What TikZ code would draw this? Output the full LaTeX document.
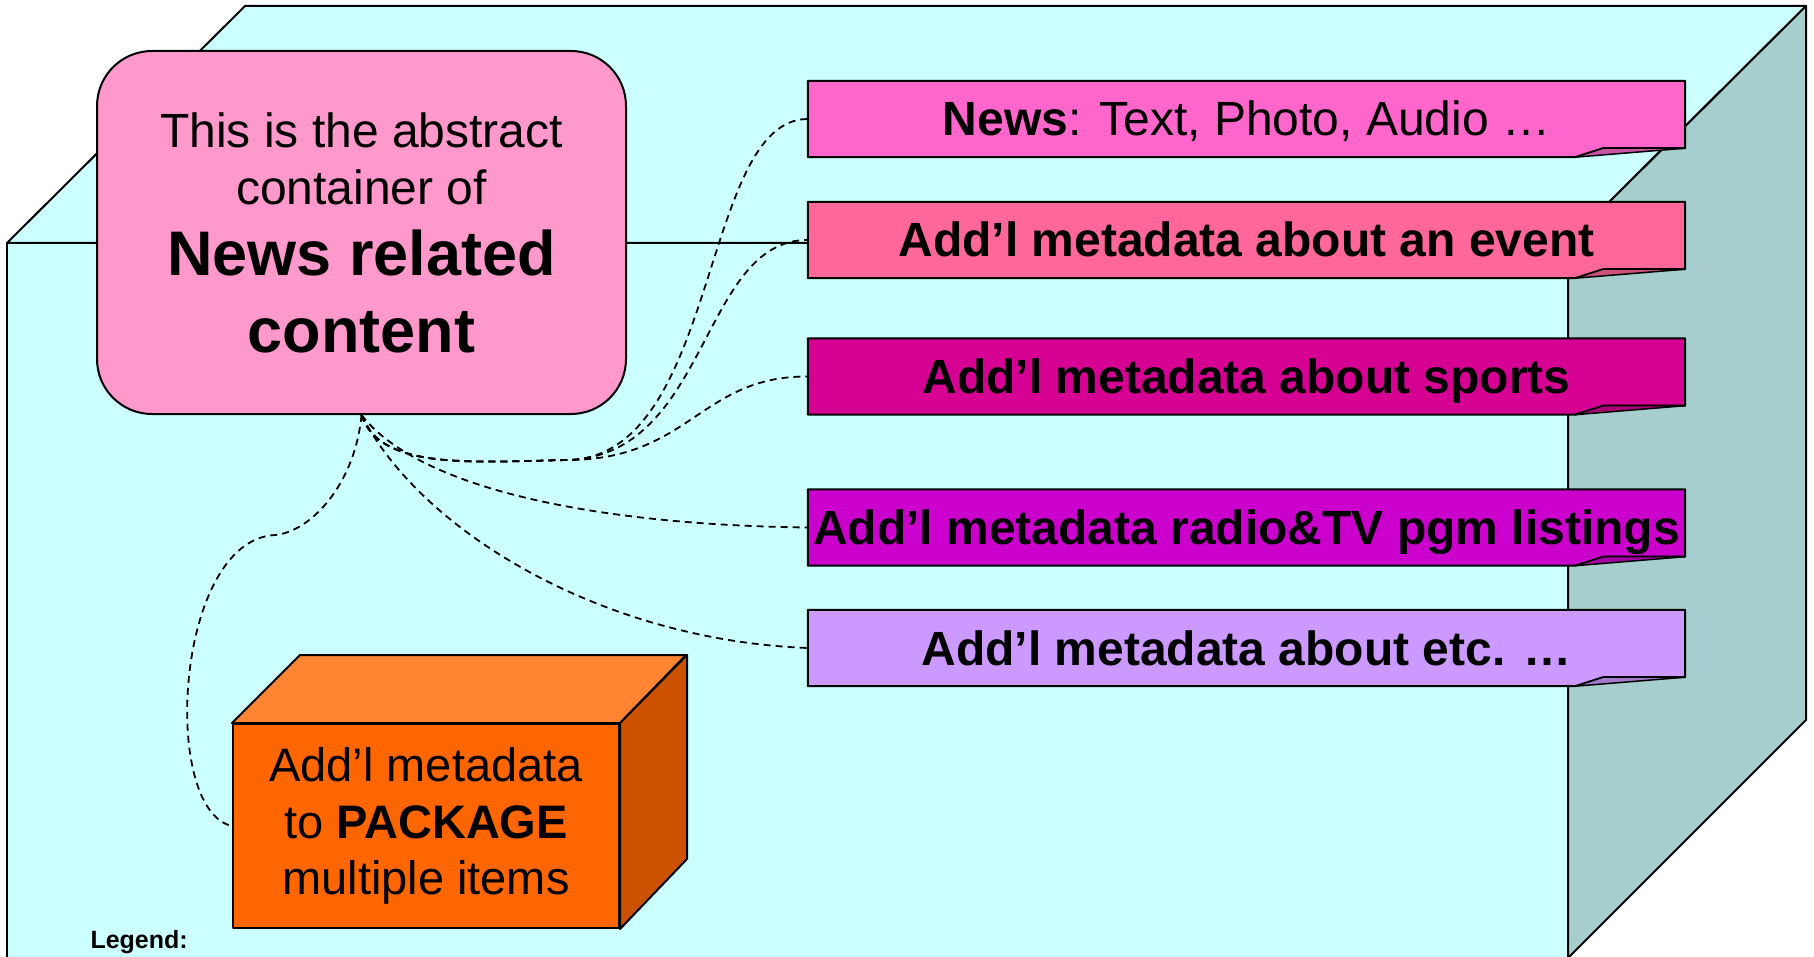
\documentclass[tikz,border=0pt]{standalone}
\usepackage{fontspec}
\setmainfont{Liberation Sans}
\usepackage{tikz}

\definecolor{boxcyan}{HTML}{CCFFFF}
\definecolor{boxside}{RGB}{166,206,206}
\definecolor{corepink}{HTML}{FF99CC}
\definecolor{newsc}{HTML}{FF66CC}
\definecolor{eventc}{HTML}{FF6699}
\definecolor{sportc}{HTML}{D60093}
\definecolor{radioc}{HTML}{CC00CC}
\definecolor{etcc}{HTML}{CC99FF}
\definecolor{pkgfront}{HTML}{FF6600}
\definecolor{pkgtop}{HTML}{FF8533}
\definecolor{pkgside}{HTML}{CC5200}

\pgfdeclarelayer{back}
\pgfdeclarelayer{bars}
\pgfsetlayers{back,bars,main}

\tikzset{
	edge/.style={line width=2pt, line join=round},
	core/.style={edge, draw, fill=corepink, rounded corners=55pt, minimum width=529pt, minimum height=363pt, align=center, font=\fontsize{48}{57}\selectfont},
	bar/.style={minimum width=877pt, minimum height=76pt, inner sep=0pt, text height=34pt, text depth=0pt, font=\fontsize{48}{57}\selectfont\bfseries},
	link/.style={line width=1.8pt, dash pattern=on 7pt off 5pt},
	pkgbox/.style={edge, draw, fill=pkgfront, minimum width=386pt, minimum height=204pt, align=center, font=\fontsize{47}{56.5}\selectfont},
}

\begin{document}
\begin{tikzpicture}[x=1pt, y=-1pt]
	\useasboundingbox (0,0) rectangle (1814,957);
	\begin{pgfonlayer}{back}
		\filldraw[edge, fill=boxcyan] (7,243) -- (245,6) -- (1806,6) -- (1568,243) -- cycle;
		\filldraw[edge, fill=boxside] (1568,243) -- (1806,6) -- (1806,720) -- (1568,958) -- cycle;
		\filldraw[edge, fill=boxcyan] (7,243) rectangle (1568,970);
	\end{pgfonlayer}

	\node[core] (core) at (361.5,232.5) {This is the abstract\\ container of\\[14pt] {\fontsize{63}{75}\selectfont\bfseries News related}\\[20pt] {\fontsize{63}{77}\selectfont\bfseries content}};

	\node[bar, font=\fontsize{48}{57}\selectfont] (news) at (1246.5,119) {\textbf{News}: Text, Photo, Audio …};
	\node[bar] (event) at (1246.5,240) {Add’l metadata about an event};
	\node[bar] (sports) at (1246.5,376.5) {Add’l metadata about sports};
	\node[bar] (radio) at (1246.5,527.5) {Add’l metadata radio\&TV pgm listings};
	\node[bar] (etc) at (1246.5,648) {Add’l metadata about etc. …};

	\begin{pgfonlayer}{bars}
		\foreach \b/\c in {news/newsc, event/eventc, sports/sportc, radio/radioc, etc/etcc} {
			\filldraw[edge, fill=\c] (\b.north west) -- (\b.north east) -- ([yshift=9pt]\b.south east) -- ([xshift=-82pt,yshift=9pt]\b.south east) -- ([xshift=-110pt]\b.south east) -- (\b.south west) -- cycle;
			\filldraw[line width=1.5pt, line join=round, fill=\c!80!black] ([xshift=-110pt]\b.south east) -- ([xshift=-82pt,yshift=9pt]\b.south east) -- ([yshift=9pt]\b.south east) -- cycle;
		}
	\end{pgfonlayer}

	\node[pkgbox] (pkg) at (426,826) {Add’l metadata\\ to \textbf{PACKAGE}\\ multiple items};
	\filldraw[edge, fill=pkgtop] (pkg.north west) -- ++(68,-68) -- ++(386,0) -- (pkg.north east) -- cycle;
	\filldraw[edge, fill=pkgside] (pkg.north east) -- ++(67,-68) -- ++(0,204) -- (pkg.south east) -- cycle;

	\node[anchor=base west, font=\fontsize{25}{30}\selectfont\bfseries] (legend) at (87,948) {Legend:};

	\coordinate (dip) at (567,460);
	\coordinate (kink) at (275,535);
	\draw[link] (core.south) .. controls (380,470) and (470,462) .. (dip) .. controls (720,458) and (700,119) .. (news.west);
	\draw[link] (core.south) .. controls (380,470) and (470,462) .. (dip) .. controls (710,456) and (700,240) .. (event.west);
	\draw[link] (core.south) .. controls (380,470) and (470,462) .. (dip) .. controls (690,460) and (700,376) .. (sports.west);
	\draw[link] (core.south) .. controls (420,490) and (600,525) .. (radio.west);
	\draw[link] (core.south) .. controls (420,530) and (600,640) .. (etc.west);
	\draw[link] (core.south) .. controls (355,485) and (310,532) .. (kink) .. controls (175,540) and (160,810) .. (pkg.west);
\end{tikzpicture}
\end{document}
